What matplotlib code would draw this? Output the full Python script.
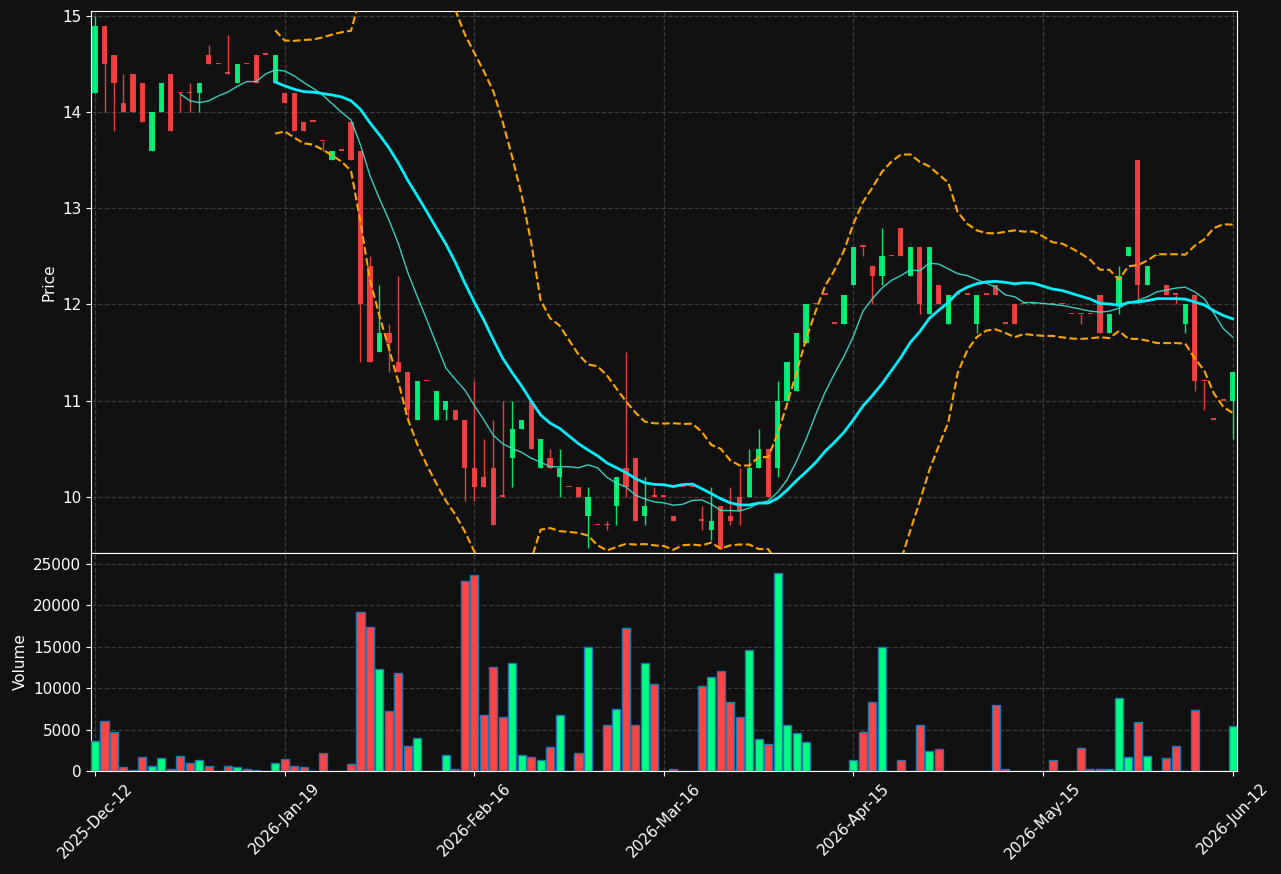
import matplotlib

matplotlib.use("Agg")
import matplotlib.pyplot as plt  # noqa: E402
import numpy as np  # noqa: E402
import pandas as pd  # noqa: E402

# OHLC, one candle per trading session (index 0..120)
opens = [14.2, 14.9, 14.6, 14.1, 14.4, 14.3, 13.6, 14.0, 14.4, 14.2,
         14.2, 14.2, 14.6, 14.5, 14.4, 14.3, 14.5, 14.6, 14.6, 14.3,
         14.2, 14.2, 13.9, 13.9, 13.7, 13.5, 13.6, 13.9, 13.6, 12.4,
         11.5, 11.7, 11.4, 11.3, 10.8, 11.2, 10.8, 10.9, 10.9, 10.8,
         10.3, 10.2, 10.3, 10.0, 10.4, 10.7, 11.0, 10.3, 10.4, 10.2,
         10.1, 10.1, 9.8, 9.7, 9.7, 9.9, 10.3, 10.4, 9.8, 10.0,
         10.0, 9.8, 10.1, 10.1, 9.75, 9.65, 9.9, 9.8, 10.0, 10.0,
         10.3, 10.5, 10.3, 11.0, 11.1, 11.6, 12.0, 12.1, 11.8, 11.8,
         12.2, 12.6, 12.4, 12.3, 12.5, 12.8, 12.3, 12.6, 11.9, 12.2,
         11.8, 12.1, 12.1, 11.8, 12.1, 12.2, 11.8, 12.0, 12.0, 12.0,
         12.0, 12.0, 12.0, 11.9, 11.9, 11.9, 12.1, 11.7, 12.0, 12.5,
         13.5, 12.2, 12.5, 12.2, 12.1, 11.8, 12.1, 11.2, 10.8, 11.0,
         11.0]
highs = [15.0, 14.9, 14.6, 14.4, 14.4, 14.3, 14.0, 14.3, 14.4, 14.2,
         14.3, 14.3, 14.7, 14.5, 14.8, 14.5, 14.5, 14.6, 14.6, 14.6,
         14.2, 14.2, 13.9, 13.9, 13.7, 13.6, 13.6, 13.9, 13.6, 12.5,
         12.2, 11.8, 12.3, 11.3, 11.2, 11.2, 11.1, 11.0, 10.9, 10.8,
         11.2, 10.6, 10.8, 11.0, 11.0, 10.8, 11.0, 10.6, 10.5, 10.5,
         10.1, 10.1, 10.1, 9.7, 9.75, 10.2, 11.5, 10.4, 10.2, 10.1,
         10.0, 9.8, 10.1, 10.1, 9.9, 10.1, 9.9, 10.1, 10.3, 10.5,
         10.7, 10.5, 11.2, 11.4, 11.7, 12.0, 12.0, 12.1, 11.8, 12.1,
         12.6, 12.6, 12.4, 12.8, 12.5, 12.8, 12.6, 12.6, 12.6, 12.2,
         12.1, 12.1, 12.1, 12.1, 12.1, 12.2, 11.8, 12.0, 12.0, 12.0,
         12.0, 12.0, 12.0, 11.9, 11.9, 11.9, 12.1, 11.9, 12.4, 12.6,
         13.5, 12.4, 12.5, 12.2, 12.1, 12.0, 12.1, 11.2, 10.8, 11.0,
         11.3]
lows = [14.2, 14.0, 13.8, 14.0, 14.0, 13.9, 13.6, 14.0, 13.8, 14.0,
        14.0, 14.0, 14.5, 14.5, 14.4, 14.3, 14.5, 14.3, 14.6, 14.3,
        14.1, 13.8, 13.8, 13.9, 13.6, 13.5, 13.6, 13.5, 11.4, 11.4,
        11.5, 11.3, 11.3, 10.8, 10.8, 11.2, 10.8, 10.8, 10.8, 9.95,
        9.95, 10.1, 9.7, 10.0, 10.1, 10.7, 10.5, 10.3, 10.3, 10.0,
        10.1, 10.0, 9.46, 9.7, 9.65, 9.7, 10.0, 9.75, 9.7, 10.0,
        10.0, 9.75, 10.1, 10.1, 9.65, 9.55, 9.45, 9.7, 9.7, 10.0,
        10.3, 10.0, 10.2, 11.0, 11.1, 11.6, 12.0, 12.1, 11.8, 11.8,
        12.2, 12.5, 12.0, 12.2, 12.5, 12.5, 12.3, 11.9, 11.9, 12.0,
        11.8, 12.1, 12.1, 11.7, 12.1, 12.1, 11.8, 11.8, 12.0, 12.0,
        12.0, 12.0, 12.0, 11.9, 11.8, 11.9, 11.7, 11.7, 11.9, 12.5,
        12.0, 12.2, 12.5, 12.1, 12.0, 11.7, 11.1, 10.9, 10.8, 11.0,
        10.6]
closes = [14.9, 14.5, 14.3, 14.0, 14.0, 13.9, 14.0, 14.3, 13.8, 14.2,
          14.2, 14.3, 14.5, 14.5, 14.4, 14.5, 14.5, 14.3, 14.6, 14.6,
          14.1, 13.8, 13.8, 13.9, 13.7, 13.6, 13.6, 13.5, 12.0, 11.4,
          11.7, 11.6, 11.3, 10.9, 11.2, 11.2, 11.1, 11.0, 10.8, 10.3,
          10.1, 10.1, 9.7, 10.0, 10.7, 10.8, 10.5, 10.6, 10.3, 10.3,
          10.1, 10.0, 10.0, 9.7, 9.7, 10.2, 10.1, 9.75, 9.9, 10.0,
          10.0, 9.75, 10.1, 10.1, 9.75, 9.75, 9.45, 9.75, 9.85, 10.3,
          10.5, 10.0, 11.0, 11.4, 11.7, 12.0, 12.0, 12.1, 11.8, 12.1,
          12.6, 12.6, 12.3, 12.5, 12.5, 12.5, 12.6, 12.0, 12.6, 12.0,
          12.1, 12.1, 12.1, 12.1, 12.1, 12.1, 11.8, 11.8, 12.0, 12.0,
          12.0, 12.0, 12.0, 11.9, 11.9, 11.9, 11.7, 11.9, 12.3, 12.6,
          12.2, 12.4, 12.5, 12.1, 12.1, 12.0, 11.2, 11.2, 10.8, 11.0,
          11.3]
volumes = [3600, 6000, 4700, 450, 100, 1650, 550, 1550, 200, 1800,
           950, 1300, 550, 0, 550, 450, 300, 80, 0, 950,
           1400, 600, 450, 0, 2150, 0, 0, 800, 19150, 17350,
           12350, 7250, 11850, 3000, 3950, 0, 50, 1900, 300, 22900,
           23650, 6700, 12550, 6500, 13050, 1900, 1650, 1300, 2900, 6750,
           0, 2150, 15000, 50, 5550, 7500, 17200, 5550, 13050, 10550,
           0, 200, 0, 0, 10300, 11350, 12100, 8350, 6500, 14650,
           3850, 3250, 23900, 5550, 4550, 3500, 0, 50, 0, 50,
           1300, 4700, 8350, 14900, 0, 1300, 50, 5550, 2400, 2650,
           50, 0, 0, 50, 0, 8000, 200, 50, 0, 0,
           0, 1300, 0, 50, 2750, 300, 300, 300, 8850, 1650,
           5900, 1800, 0, 1550, 3000, 50, 7400, 50, 50, 0,
           5450]
tick_pos = [0, 20, 40, 60, 80, 100, 120]
tick_labels = ["2025-Dec-12", "2026-Jan-19", "2026-Feb-16", "2026-Mar-16",
               "2026-Apr-15", "2026-May-15", "2026-Jun-12"]

BG = "#111111"
UP, DOWN = "#00ff7f", "#ff4444"

df = pd.DataFrame(dict(open=opens, high=highs, low=lows, close=closes, volume=volumes))
x = np.arange(len(df))
up = df.close > df.open
ma10 = df.close.rolling(10).mean()
ma20 = df.close.rolling(20).mean()
sd20 = df.close.rolling(20).std(ddof=0)

fig = plt.figure(figsize=(12.81, 8.74), dpi=100, facecolor=BG)
ax = fig.add_axes([0.0710, 0.3673, 0.8946, 0.6201])
axv = fig.add_axes([0.0710, 0.1178, 0.8946, 0.2495], sharex=ax)

for a in (ax, axv):
    a.set_facecolor(BG)
    a.grid(True, color="#3c3c3c", ls="--", lw=0.9)
    a.set_axisbelow(True)
    for s in a.spines.values():
        s.set_color("white")
    a.tick_params(colors="white", labelsize=11)

# candles
cols = np.where(up, UP, DOWN)
ax.vlines(x, df.low, df.high, colors=cols, lw=1, alpha=0.9, zorder=2)
body_lo = np.minimum(df.open, df.close)
body_h = np.maximum((df.close - df.open).abs(), 0.015)
ax.bar(x, body_h, bottom=body_lo, width=0.55, color=cols, alpha=0.9, lw=0, zorder=3)

# moving averages + bands
ax.plot(x, ma10, color="#40e0d0", lw=1, alpha=0.9, zorder=4)
ax.plot(x, ma20, color="#00f0ff", lw=2, zorder=4)
ax.plot(x, ma20 + 2 * sd20, color="orange", ls="--", lw=1.5, zorder=4)
ax.plot(x, ma20 - 2 * sd20, color="orange", ls="--", lw=1.5, zorder=4)
ax.set_ylim(9.413, 15.054)
ax.set_ylabel("Price", color="white", fontsize=11)
ax.tick_params(labelbottom=False)

# volume
axv.bar(x, df.volume, width=0.85, color=cols, edgecolor="#1f77b4", lw=1, zorder=3)
axv.set_ylim(0, df.volume.max() * 1.1)
axv.set_ylabel("Volume", color="white", fontsize=11)
axv.set_xlim(-0.43, 120.45)
axv.set_xticks(tick_pos)
axv.set_xticklabels(tick_labels, rotation=45)

fig.savefig("out.png", dpi=100, facecolor=BG)
